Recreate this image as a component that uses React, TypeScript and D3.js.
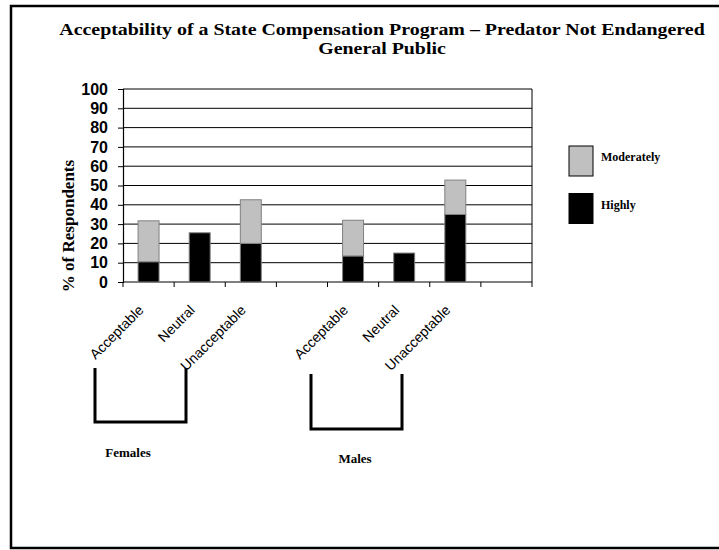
import { useEffect, useRef } from "react";
import * as d3 from "d3";

// Response categories (blank slots separate the two groups)
const categories = [
  "Acceptable",
  "Neutral",
  "Unacceptable",
  "",
  "Acceptable",
  "Neutral",
  "Unacceptable",
  "",
];
const slotKeys = ["f-acc", "f-neu", "f-una", "f-gap", "m-acc", "m-neu", "m-una", "m-gap"];

// % of respondents
const highly = [10.5, 25.5, 20, 0, 13.5, 15, 35, 0];
const moderately = [21.2, 0, 22.6, 0, 18.5, 0, 17.8, 0];

const yTicks = [0, 10, 20, 30, 40, 50, 60, 70, 80, 90, 100];
const legendItems = ["Moderately", "Highly"];
const groupLabels = ["Females", "Males"];

const WIDTH = 719;
const HEIGHT = 550;
const PLOT = { left: 123, right: 532, top: 89, bottom: 282 };
const SERIF = "'Liberation Serif', 'Times New Roman', serif";
const SANS = "'Liberation Sans', Arial, sans-serif";
const GREY = "#c0c0c0";

export default function App() {
  const svgRef = useRef<SVGSVGElement>(null);

  useEffect(() => {
    if (!svgRef.current) return;
    const svg = d3.select(svgRef.current);
    svg.selectAll("*").remove();

    svg.attr("width", WIDTH).attr("height", HEIGHT);

    // outer frame
    svg
      .append("rect")
      .attr("x", 11)
      .attr("y", 6)
      .attr("width", WIDTH)
      .attr("height", 542)
      .attr("fill", "#fff")
      .attr("stroke", "#000")
      .attr("stroke-width", 2.5);

    // title (stretched horizontally, lines sit close together)
    const title = svg
      .append("text")
      .attr("transform", "translate(382,0) scale(1.17,1)")
      .attr("text-anchor", "middle")
      .attr("font-family", SERIF)
      .attr("font-weight", "bold")
      .attr("font-size", 17);
    title.append("tspan").attr("x", 0).attr("y", 35.5)
      .text("Acceptability of a State Compensation Program \u2013 Predator Not Endangered");
    title.append("tspan").attr("x", 0).attr("y", 54.5).text("General Public");

    const x = d3
      .scaleBand<string>()
      .domain(slotKeys)
      .range([PLOT.left, PLOT.right])
      .paddingInner(0.59)
      .paddingOuter(0.295);

    const y = d3.scaleLinear().domain([0, 100]).range([PLOT.bottom, PLOT.top]);

    // grid lines
    svg
      .append("g")
      .selectAll("line")
      .data(yTicks.slice(1))
      .join("line")
      .attr("x1", PLOT.left)
      .attr("x2", PLOT.right)
      .attr("y1", (d) => y(d))
      .attr("y2", (d) => y(d))
      .attr("stroke", "#000")
      .attr("stroke-width", 1);

    // right border of plot
    svg
      .append("line")
      .attr("x1", PLOT.right)
      .attr("x2", PLOT.right)
      .attr("y1", PLOT.top)
      .attr("y2", PLOT.bottom)
      .attr("stroke", "#000");

    // y axis
    const yAxis = svg
      .append("g")
      .attr("transform", `translate(${PLOT.left},0)`)
      .call(d3.axisLeft(y).tickValues(yTicks).tickSize(5).tickPadding(10));
    yAxis.select(".domain").attr("stroke", "#000").attr("stroke-width", 1.2);
    yAxis
      .selectAll(".tick text")
      .attr("font-family", SANS)
      .attr("font-weight", "bold")
      .attr("font-size", 16)
      .attr("fill", "#000");

    // x axis with ticks at slot boundaries
    const step = x.step();
    const boundaries = d3.range(categories.length + 1).map((i) => PLOT.left + i * step);
    svg
      .append("line")
      .attr("x1", PLOT.left)
      .attr("x2", PLOT.right)
      .attr("y1", PLOT.bottom)
      .attr("y2", PLOT.bottom)
      .attr("stroke", "#000")
      .attr("stroke-width", 1.2);
    svg
      .append("g")
      .selectAll("line")
      .data(boundaries)
      .join("line")
      .attr("x1", (d) => d)
      .attr("x2", (d) => d)
      .attr("y1", PLOT.bottom)
      .attr("y2", PLOT.bottom + 5)
      .attr("stroke", "#000");

    // bars
    const bars = svg.append("g");
    slotKeys.forEach((key, i) => {
      const bx = x(key)!;
      const bw = x.bandwidth();
      if (highly[i] > 0) {
        bars
          .append("rect")
          .attr("x", bx)
          .attr("y", y(highly[i]))
          .attr("width", bw)
          .attr("height", y(0) - y(highly[i]))
          .attr("fill", "#000")
          .attr("stroke", "#808080");
      }
      if (moderately[i] > 0) {
        const top = highly[i] + moderately[i];
        bars
          .append("rect")
          .attr("x", bx)
          .attr("y", y(top))
          .attr("width", bw)
          .attr("height", y(highly[i]) - y(top))
          .attr("fill", GREY)
          .attr("stroke", "#808080");
      }
    });

    // category labels, rotated
    svg
      .append("g")
      .selectAll("text")
      .data(categories.map((c, i) => ({ c, k: slotKeys[i] })))
      .join("text")
      .attr("transform", (d) => {
        const cx = x(d.k)! + x.bandwidth() / 2;
        return `translate(${cx - 4},${PLOT.bottom + 29}) rotate(-45)`;
      })
      .attr("text-anchor", "end")
      .attr("font-family", SANS)
      .attr("font-size", 14)
      .text((d) => d.c);

    // y axis title
    svg
      .append("text")
      .attr("transform", "translate(74,226) rotate(-90)")
      .attr("text-anchor", "middle")
      .attr("font-family", SERIF)
      .attr("font-weight", "bold")
      .attr("font-size", 17)
      .text("% of Respondents");

    // legend
    const legend = svg.append("g").attr("transform", "translate(569,146)");
    legendItems.forEach((name, i) => {
      legend
        .append("rect")
        .attr("x", 0)
        .attr("y", i * 47.5)
        .attr("width", 24)
        .attr("height", 30)
        .attr("fill", name === "Highly" ? "#000" : GREY)
        .attr("stroke", "#000");
      legend
        .append("text")
        .attr("x", 32)
        .attr("y", i * 47.5 + 15)
        .attr("font-family", SERIF)
        .attr("font-weight", "bold")
        .attr("font-size", 12)
        .text(name);
    });

    // group brackets
    const brackets = [
      { x0: 95, x1: 186, top: 368, bottom: 422, labelX: 128, labelY: 457 },
      { x0: 311, x1: 402, top: 374, bottom: 429, labelX: 355, labelY: 463 },
    ];
    brackets.forEach((b, i) => {
      svg
        .append("path")
        .attr("d", `M${b.x0},${b.top}V${b.bottom}H${b.x1}V${b.top}`)
        .attr("fill", "none")
        .attr("stroke", "#000")
        .attr("stroke-width", 3);
      svg
        .append("text")
        .attr("x", b.labelX)
        .attr("y", b.labelY)
        .attr("text-anchor", "middle")
        .attr("font-family", SERIF)
        .attr("font-weight", "bold")
        .attr("font-size", 13)
        .text(groupLabels[i]);
    });
  }, []);

  return (
    <div style={{ position: "absolute", left: 0, top: 0 }}>
      <svg ref={svgRef} style={{ display: "block" }} />
    </div>
  );
}
